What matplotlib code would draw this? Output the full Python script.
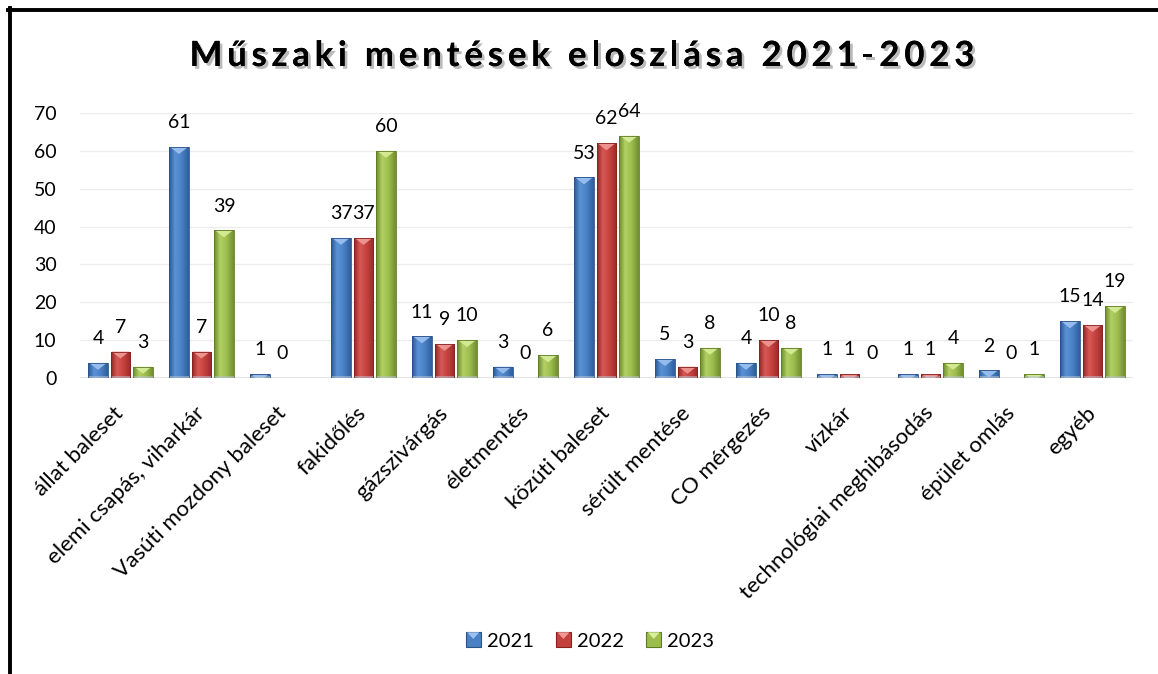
import numpy as np
import matplotlib
matplotlib.use("Agg")
import matplotlib.pyplot as plt
import matplotlib.patheffects as pe
from matplotlib.colors import to_rgb
from matplotlib.patches import Polygon, Rectangle
from matplotlib.lines import Line2D
from matplotlib.legend_handler import HandlerBase
from matplotlib.transforms import ScaledTranslation

plt.rcParams['font.family'] = ['Lato', 'DejaVu Sans']

# chart data
categories = ["állat baleset", "elemi csapás, viharkár", "Vasúti mozdony baleset",
              "fakidőlés", "gázszivárgás", "életmentés", "közúti baleset",
              "sérült mentése", "CO mérgezés", "vízkár",
              "technológiai meghibásodás", "épület omlás", "egyéb"]
years = ["2021", "2022", "2023"]
v2021 = [4, 61, 1, 37, 11, 3, 53, 5, 4, 1, 1, 2, 15]
v2022 = [7, 7, 0, 37, 9, 0, 62, 3, 10, 1, 1, 0, 14]
v2023 = [3, 39, np.nan, 60, 10, 6, 64, 8, 8, 0, 4, 1, 19]
yticks = [0, 10, 20, 30, 40, 50, 60, 70]
title = "Műszaki mentések eloszlása 2021-2023"

# colour ramps (dark edge, light, mid, dark edge) and bevel colour per series
ramps = [
    ["#2a5996", "#5b92d6", "#4a80c4", "#2f5f9e"],
    ["#952826", "#d65955", "#c4403d", "#9a2b29"],
    ["#6c8a2c", "#b2d063", "#9cbc4e", "#708f30"],
]
bevels = ["#9cc2f0", "#f09a97", "#d8ee98"]
edges = ["#2b5287", "#86211f", "#5f7a26"]

W, H = 1158, 674
fig = plt.figure(figsize=(W / 100, H / 100), dpi=100)
ax = fig.add_axes([80 / W, 1 - 378 / H, (1133 - 80) / W, (378 - 113) / H])

x = np.arange(len(categories))
bw = 0.24
step = 0.278
series = [v2021, v2022, v2023]


def gradient_img(cols, n=40):
    pos = np.array([0.0, 0.3, 0.65, 1.0])
    t = np.linspace(0, 1, n)
    rgb = np.array([to_rgb(c) for c in cols])
    img = np.stack([np.interp(t, pos, rgb[:, k]) for k in range(3)], axis=-1)
    return img[np.newaxis, :, :]


bevel_units = 7 / ((378 - 113) / 70)  # about 7 px of bevel
for si, vals in enumerate(series):
    bars = ax.bar(x + (si - 1) * step, vals, bw, color=ramps[si][2],
                  linewidth=0, zorder=2)
    img = gradient_img(ramps[si])
    for b, v in zip(bars, vals):
        if np.isnan(v):
            continue
        x0, w, h = b.get_x(), b.get_width(), b.get_height()
        ax.annotate(f"{int(v)}", (x0 + w / 2, h), xytext=(0, 17.5),
                    textcoords='offset points', ha='center', va='center',
                    fontsize=14, color='#000000', zorder=6)
        if v == 0:
            continue
        im = ax.imshow(img, extent=[x0, x0 + w, 0, h], aspect='auto',
                       interpolation='bilinear', zorder=3)
        im.set_clip_path(b)
        bh = min(bevel_units, h)
        frac = bh / bevel_units
        tri = Polygon([(x0 + w * 0.04, h), (x0 + w * 0.96, h),
                       (x0 + w / 2 + w * 0.46 * (1 - frac), h - bh),
                       (x0 + w / 2 - w * 0.46 * (1 - frac), h - bh)],
                      closed=True, facecolor=bevels[si], edgecolor='none',
                      alpha=0.9, zorder=4)
        ax.add_patch(tri)
        ax.add_patch(Rectangle((x0, 0), w, min(0.45, h), facecolor='#b8c4d4',
                               alpha=0.55, edgecolor='none', zorder=4))
        ax.add_patch(Rectangle((x0, 0), w, h, facecolor='none',
                               edgecolor=edges[si], linewidth=0.6, zorder=5))

ax.set_xlim(-0.5, len(categories) - 0.5)
ax.set_ylim(0, 70)
ax.set_yticks(yticks)
ax.yaxis.grid(True, color='#ececec', linewidth=1)
ax.set_axisbelow(True)
for s in ax.spines.values():
    s.set_visible(False)
ax.axhline(0, color='#e4e4e4', linewidth=1.5, zorder=1)

ax.tick_params(axis='y', length=0, pad=17, labelsize=14)
ax.tick_params(axis='x', length=0, pad=0, labelsize=16)
ax.set_xticks(x)
ax.set_xticklabels(categories, rotation=45, ha='right', va='center',
                   rotation_mode='anchor')
offset = ScaledTranslation(0 / 100, -32 / 100, fig.dpi_scale_trans)
for lab in ax.get_xticklabels():
    lab.set_transform(lab.get_transform() + offset)

# title with extra letter spacing, drawn glyph by glyph
renderer = fig.canvas.get_renderer()
tkw = dict(fontsize=25, fontweight='bold')


def text_w(s):
    t = fig.text(0, 0, s, **tkw)
    wd = t.get_window_extent(renderer).width
    t.remove()
    return wd


bar_w = text_w("|")
starts = [text_w(title[:i] + "|") - bar_w if i else 0 for i in range(len(title))]
spacing = 4.8
total = text_w(title) + spacing * (len(title) - 1)
left = 582 - total / 2
shadow = [pe.withSimplePatchShadow(offset=(2, -2), shadow_rgbFace='#555555',
                                   alpha=0.4), pe.Normal()]
for i, ch in enumerate(title):
    if ch == " ":
        continue
    fig.text((left + starts[i] + spacing * i) / W, 1 - 56 / H, ch, ha='left',
             va='center', path_effects=shadow, **tkw)


class BevelHandler(HandlerBase):
    def create_artists(self, legend, orig, xd, yd, width, height, fontsize, trans):
        si = int(orig.get_label())
        sq = Rectangle((-xd, -yd), width, height, facecolor=ramps[si][2],
                       edgecolor=edges[si], linewidth=0.8, transform=trans)
        tri = Polygon([(-xd + width * 0.1, -yd + height), (-xd + width * 0.9, -yd + height),
                       (-xd + width / 2, -yd + height * 0.55)],
                      facecolor=bevels[si], edgecolor='none', transform=trans)
        return [sq, tri]


handles = [Rectangle((0, 0), 1, 1, label=str(i)) for i in range(3)]
fig.legend(handles, years, loc='center', bbox_to_anchor=(590 / W, 1 - 641 / H),
           ncol=3, frameon=False, fontsize=14.5, handlelength=0.75,
           handleheight=0.75, handletextpad=0.3, columnspacing=1.1,
           handler_map={Rectangle: BevelHandler()})

# chart frame: heavy top and left edge
fig.add_artist(Line2D([8 / W, 1], [1 - 9.5 / H, 1 - 9.5 / H], color='black',
                      linewidth=2.8, transform=fig.transFigure))
fig.add_artist(Line2D([10 / W, 10 / W], [0, 1 - 8 / H], color='black',
                      linewidth=2.8, transform=fig.transFigure))

fig.savefig("out.png", dpi=100)
